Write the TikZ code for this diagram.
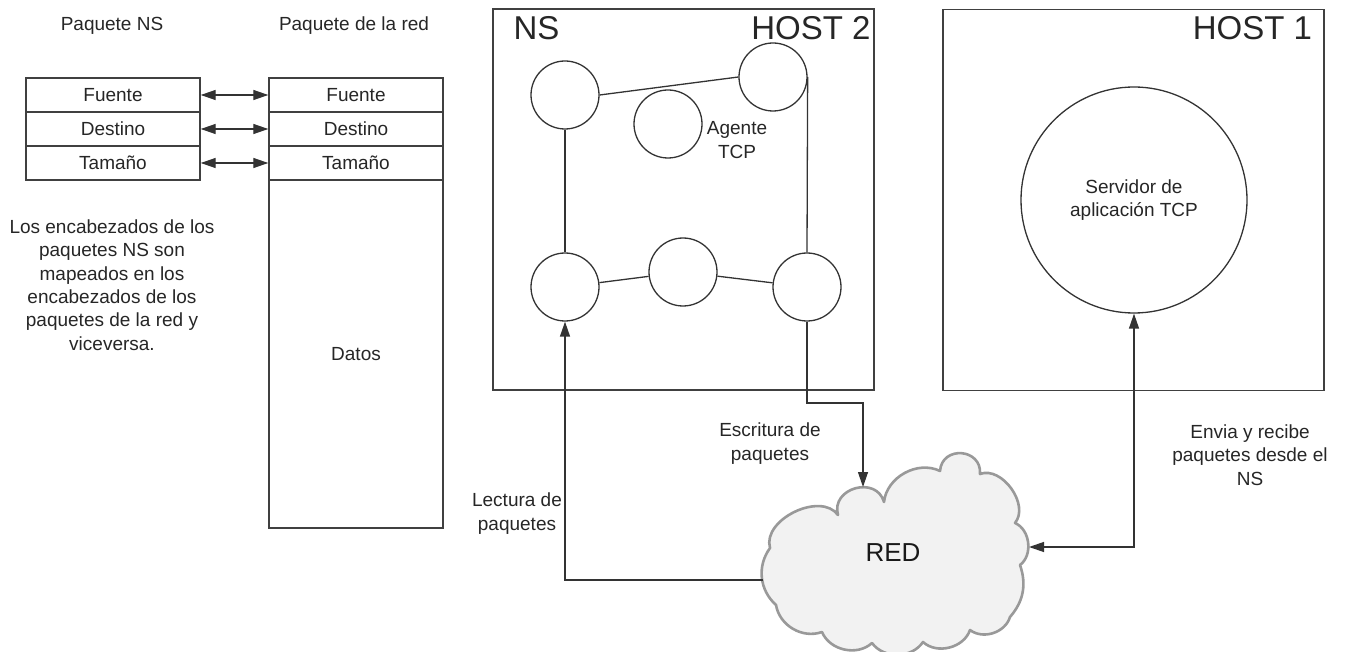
\documentclass[tikz,border=0pt]{standalone}
\usepackage{fontspec}
\setmainfont{Liberation Sans}
\usetikzlibrary{arrows.meta,calc}

\begin{document}
\begin{tikzpicture}[x=1pt,y=-1pt,
  every node/.style={font=\fontsize{19}{23.4}\selectfont, text=black!85},
  cell/.style={draw=black!75, line width=1.4pt, minimum width=174pt, minimum height=34pt, inner sep=0pt},
  frame/.style={draw=black!75, line width=1.4pt, minimum width=381pt, minimum height=381pt, inner sep=0pt},
  vertex/.style={circle, draw=black!80, line width=1.3pt, minimum size=68pt, inner sep=0pt},
  link/.style={draw=black!80, line width=1.3pt},
  arrowto/.style={link, -{Triangle[length=15pt,width=10pt]}},
  arrowboth/.style={link, {Triangle[length=15pt,width=10pt]}-{Triangle[length=15pt,width=10pt]}},
  big/.style={font=\fontsize{33}{36}\selectfont},
  caption/.style={align=center, inner sep=0pt},
  cloudline/.style={draw=black!40, line width=2.6pt, fill=black!5, line join=round}
]
\useasboundingbox (0,0) rectangle (1347,652);

% ---- packet headers ----
\node[caption] (tns) at (112,26) {Paquete NS};
\node[caption] (tred) at (354,26) {Paquete de la red};

\node[cell] (nsF) at (113,95) {Fuente};
\node[cell] (nsD) at (113,129) {Destino};
\node[cell] (nsT) at (113,163) {Tamaño};

\node[cell] (rdF) at (356,95) {Fuente};
\node[cell] (rdD) at (356,129) {Destino};
\node[cell] (rdT) at (356,163) {Tamaño};
\node[cell, minimum height=348pt] (rdData) at (356,354) {Datos};

\draw[arrowboth] (nsF.east) -- (rdF.west);
\draw[arrowboth] (nsD.east) -- (rdD.west);
\draw[arrowboth] (nsT.east) -- (rdT.west);

\node[caption] (note) at (112,285) {Los encabezados de los\\paquetes NS son\\mapeados en los\\encabezados de los\\paquetes de la red y\\viceversa.};

% ---- NS / HOST 2 ----
\node[frame] (nsbox) at (683.5,199.5) {};
\node[big, caption] (nslbl) at (536.5,28) {NS};
\node[big, caption] (h2lbl) at (811,28) {HOST 2};

\node[vertex] (tl) at (565,95) {};
\node[vertex] (tr) at (773,77) {};
\node[vertex] (ag) at (668,124) {};
\node[caption] (aglbl) at (737,140) {Agente\\TCP};
\node[vertex] (bl) at (565,287) {};
\node[vertex] (bm) at (683,272) {};
\node[vertex] (br) at (807,287) {};

\draw[link] (tl.east) -- (tr.west);
\draw[link] (tl.south) -- (bl.north);
\draw[link] (tr.east) -- (br.north);
\draw[link] (bl) -- (bm);
\draw[link] (bm) -- (br);

% ---- HOST 1 ----
\node[frame] (h1box) at (1133.5,200) {};
\node[big, caption] (h1lbl) at (1252.5,28) {HOST 1};
\node[circle, draw=black!80, line width=1.3pt, minimum size=226pt, inner sep=0pt, align=center] (server) at (1134,200) {Servidor de\\aplicación TCP};

% ---- network cloud ----
\draw[cloudline] (770,548) to[bend left=80] (838,515)
  to[bend left=90, looseness=1.5] (884,502)
  to[bend left=55] (940,471)
  to[bend left=90, looseness=1.65] (980,474)
  to[bend left=75] (1015,523)
  to[bend left=60] (1020,565)
  to[bend left=30] (1010,617)
  to[bend left=55] (970,630)
  to[bend left=57] (923,642)
  to[bend left=55] (872,643)
  to[bend left=55] (822,632)
  to[bend left=50] (776,605)
  to[bend left=42] (770,548) -- cycle;
\node[font=\fontsize{26}{30}\selectfont, text=black!90] (red) at (893,553) {RED};

\coordinate (cloudW) at (763,580);
\coordinate (cloudN) at (863,487);
\coordinate (cloudE) at (1029,547);
\coordinate (wbend) at (863,403);

% ---- packet flows ----
\draw[arrowto] (cloudW) -| (bl.south);
\draw[arrowto] (br.south) |- (wbend) -- (cloudN);
\draw[arrowboth] (cloudE) -| (server.south);

\node[caption] (rdlbl) at (517,513.5) {Lectura de\\paquetes};
\node[caption] (wrlbl) at (770,443.5) {Escritura de\\paquetes};
\node[caption] (h1flow) at (1250,455) {Envia y recibe\\paquetes desde el\\NS};
\end{tikzpicture}
\end{document}
